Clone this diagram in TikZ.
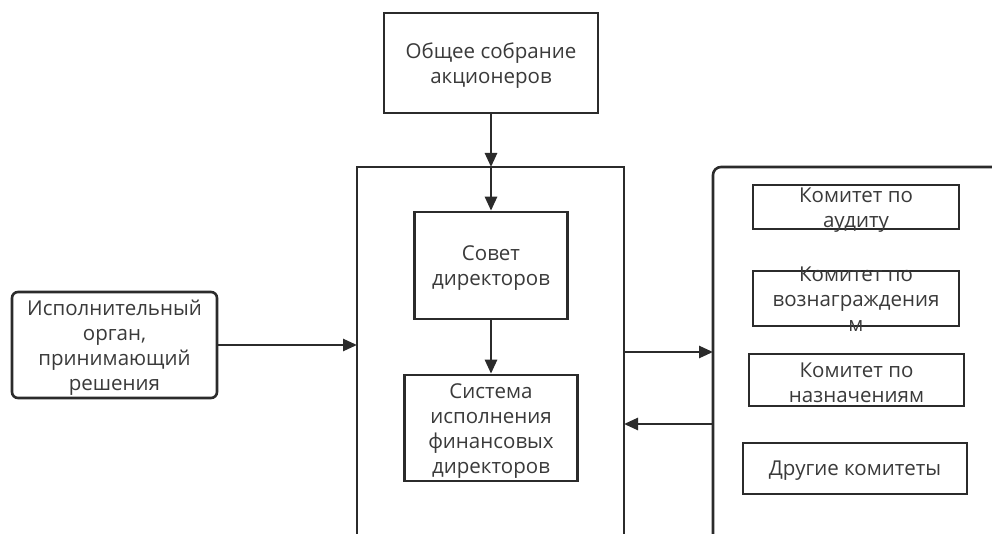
\documentclass[tikz,border=0pt]{standalone}
\usepackage{fontspec}
\setmainfont{Open Sans}
\usetikzlibrary{arrows.meta}
\definecolor{ln}{HTML}{2B2B2B}
\definecolor{tx}{HTML}{3A3A3A}
\tikzset{
  box/.style={draw=ln, line width=2.6pt, fill=white, inner sep=0pt},
  lbl/.style={text=tx, font=\fontsize{20.5}{25}\selectfont, align=center, inner sep=0pt},
  arr/.style={draw=ln, line width=2.6pt, -{Triangle[length=14pt,width=12pt]}},
  frame/.style={draw=ln, line width=2.6pt}
}
\begin{document}
\begin{tikzpicture}[x=1pt,y=-1pt]
\useasboundingbox (0,0) rectangle (992,534);
% frames open at the bottom
\draw[frame] (357,540) -- (357,167) -- (624,167) -- (624,540);
\draw[frame, rounded corners=8pt] (713,540) -- (713,167) -- (1000,167);
\coordinate (midtop) at (491,167);
\coordinate (midR1) at (624,352);
\coordinate (midR2) at (624,424);
\coordinate (midL) at (357,345);
\coordinate (rightL1) at (713,352);
\coordinate (rightL2) at (713,424);
% boxes
\node[box, minimum width=214pt, minimum height=100pt] (top) at (491,63) {};
\node[lbl] (topt) at ([yshift=-3pt]top.center) {Общее собрание\\акционеров};
\node[box, minimum width=153pt, minimum height=107pt] (sovet) at (491,265.5) {};
\node[lbl] (sovett) at ([yshift=-3pt]sovet.center) {Совет\\директоров};
\node[box, minimum width=173pt, minimum height=106pt] (sys) at (491,428) {};
\node[lbl] (syst) at ([yshift=-3pt]sys.center) {Система\\исполнения\\финансовых\\директоров};
\node[box, rounded corners=6pt, minimum width=205pt, minimum height=106pt] (exec) at (114.5,345) {};
\node[lbl] (exect) at ([yshift=-3pt]exec.center) {Исполнительный\\орган,\\принимающий\\решения};
\node[box, minimum width=206pt, minimum height=44pt] (audit) at (856,207) {};
\node[lbl] (auditt) at ([yshift=-3pt]audit.center) {Комитет по\\аудиту};
\node[box, minimum width=206pt, minimum height=55pt] (reward) at (856,298.5) {};
\node[lbl] (rewardt) at ([yshift=-1pt]reward.center) {Комитет по\\вознаграждения\\м};
\node[box, minimum width=215pt, minimum height=52pt] (appoint) at (856.5,380) {};
\node[lbl] (appointt) at ([yshift=-3pt]appoint.center) {Комитет по\\назначениям};
\node[box, minimum width=224pt, minimum height=51pt] (other) at (855,468.5) {};
\node[lbl] (othert) at ([yshift=-2pt]other.center) {Другие комитеты};
% connectors
\draw[arr] (top.south) -- (midtop);
\draw[arr] (midtop) -- (sovet.north);
\draw[arr] (sovet.south) -- (sys.north);
\draw[arr] (exec.east) -- (midL);
\draw[arr] (midR1) -- (rightL1);
\draw[arr] (rightL2) -- (midR2);
\end{tikzpicture}
\end{document}
